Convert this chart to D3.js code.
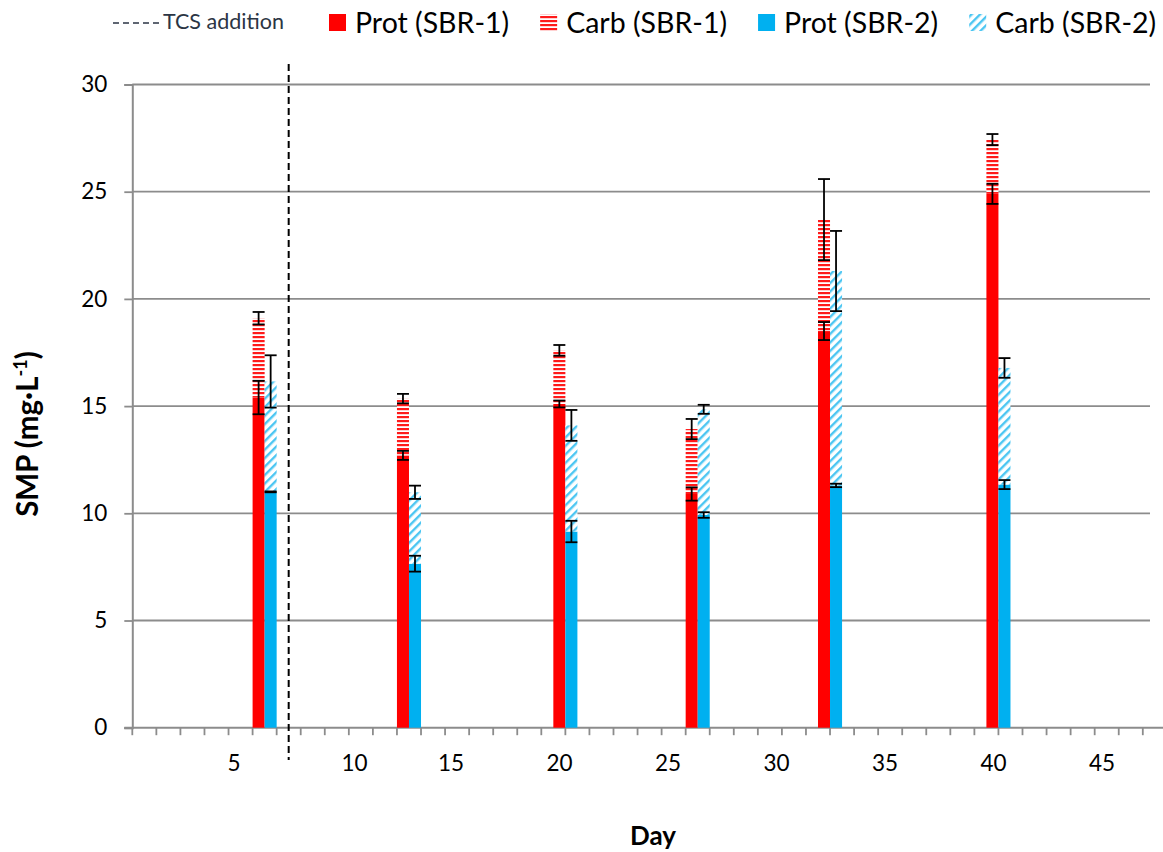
<!DOCTYPE html>
<html>
<head>
<meta charset="utf-8">
<script src="https://cdn.jsdelivr.net/npm/d3@7"></script>
<style>
  html, body { margin: 0; padding: 0; background: #fff; }
  svg { display: block; font-family: Lato, "Open Sans", sans-serif; }
</style>
</head>
<body>
<svg id="chart" width="1163" height="852"></svg>
<script>
// Sampling positions on the day axis (slot units, one slot per day tick)
const sampleSlot = [5.5, 11.5, 18.0, 23.5, 29.0, 36.0];

// Soluble microbial products, mg/L (means and standard deviations)
const protSBR1    = [15.4, 12.7, 15.1, 10.9, 18.5, 24.9];
const protSBR1Err = [0.78, 0.21, 0.16, 0.31, 0.42, 0.47];
const carbSBR1    = [3.7, 2.65, 2.5, 3.03, 5.2, 2.53];
const carbSBR1Err = [0.29, 0.22, 0.25, 0.47, 1.89, 0.26];
const protSBR2    = [11.0, 7.65, 9.15, 9.92, 11.3, 11.34];
const protSBR2Err = [0.02, 0.37, 0.5, 0.13, 0.08, 0.21];
const carbSBR2    = [5.15, 3.33, 4.95, 4.93, 10.0, 5.44];
const carbSBR2Err = [1.22, 0.31, 0.72, 0.21, 1.87, 0.46];

// Axis labels
const dayLabels = [5, 10, 15, 20, 25, 30, 35, 40, 45];
const yTicks = [0, 5, 10, 15, 20, 25, 30];
const slotCount = 42;
const tcsSlot = 6.5;   // triclosan dosing starts here

const legendItems = [
  { label: "Prot (SBR-1)", fill: "#ff0000" },
  { label: "Carb (SBR-1)", fill: "url(#hstripe)" },
  { label: "Prot (SBR-2)", fill: "#00b0f0" },
  { label: "Carb (SBR-2)", fill: "url(#dstripe)" }
];

const svg = d3.select("#chart");
const axisColor = "#8c8c8c";

const plot = { left: 132.3, right: 1150, top: 84.5, bottom: 727.7 };

const x = d3.scaleLinear().domain([0, slotCount]).range([plot.left, 1142.8]);
const dayX = d3.scaleLinear().domain([5, 45]).range([234, 1102]);
const y = d3.scaleLinear().domain([0, 30]).range([plot.bottom, plot.top]);

// fill patterns
const defs = svg.append("defs");
const hs = defs.append("pattern").attr("id", "hstripe")
  .attr("width", 4).attr("height", 4).attr("patternUnits", "userSpaceOnUse");
hs.append("rect").attr("width", 4).attr("height", 4).attr("fill", "#fff");
hs.append("rect").attr("width", 4).attr("height", 2.2).attr("fill", "#ff1a1a");

const ds = defs.append("pattern").attr("id", "dstripe")
  .attr("width", 6).attr("height", 6).attr("patternUnits", "userSpaceOnUse")
  .attr("patternTransform", "rotate(45)");
ds.append("rect").attr("width", 6).attr("height", 6).attr("fill", "#fff");
ds.append("rect").attr("width", 2.4).attr("height", 6).attr("fill", "#4cc6f2");

// horizontal gridlines
svg.append("g").selectAll("line").data(yTicks.filter(d => d > 0)).join("line")
  .attr("x1", plot.left).attr("x2", plot.right)
  .attr("y1", d => y(d)).attr("y2", d => y(d))
  .attr("stroke", axisColor).attr("stroke-width", 1.8);

// y axis
const yAxis = svg.append("g").attr("transform", `translate(${plot.left},0)`)
  .call(d3.axisLeft(y).tickValues(yTicks).tickSize(8).tickPadding(17));
yAxis.select(".domain").attr("stroke", axisColor).attr("stroke-width", 2);
yAxis.selectAll(".tick line").attr("stroke", axisColor).attr("stroke-width", 1.8);
yAxis.selectAll(".tick text").attr("fill", "#000")
  .style("font-size", "22.5px").style("font-family", "Lato, sans-serif");

// x axis: line with one tick per slot
const xAxis = svg.append("g").attr("transform", `translate(0,${plot.bottom})`);
xAxis.append("line").attr("x1", plot.left - 8).attr("x2", 1163)
  .attr("stroke", axisColor).attr("stroke-width", 2);
xAxis.selectAll("line.tk").data(d3.range(0, slotCount + 1)).join("line")
  .attr("class", "tk")
  .attr("x1", d => x(d)).attr("x2", d => x(d))
  .attr("y1", 0).attr("y2", 7.5)
  .attr("stroke", axisColor).attr("stroke-width", 1.8);

// day labels
const labelNudge = { 10: 12 };
svg.append("g").selectAll("text").data(dayLabels).join("text")
  .attr("x", d => dayX(d) + (labelNudge[d] || 0))
  .attr("y", 771)
  .attr("text-anchor", "middle")
  .style("font-size", "22.5px")
  .text(d => d);

// bars
const half = x(0.5) - x(0);
const g = svg.append("g");
sampleSlot.forEach((s, i) => {
  const cx = x(s);
  // SBR-1 on the left half, SBR-2 on the right half
  g.append("rect").attr("x", cx - half).attr("width", half)
    .attr("y", y(protSBR1[i])).attr("height", y(0) - y(protSBR1[i]))
    .attr("fill", "#ff0000");
  g.append("rect").attr("x", cx - half).attr("width", half)
    .attr("y", y(protSBR1[i] + carbSBR1[i]))
    .attr("height", y(protSBR1[i]) - y(protSBR1[i] + carbSBR1[i]))
    .attr("fill", "url(#hstripe)");
  g.append("rect").attr("x", cx).attr("width", half)
    .attr("y", y(protSBR2[i])).attr("height", y(0) - y(protSBR2[i]))
    .attr("fill", "#00b0f0");
  g.append("rect").attr("x", cx).attr("width", half)
    .attr("y", y(protSBR2[i] + carbSBR2[i]))
    .attr("height", y(protSBR2[i]) - y(protSBR2[i] + carbSBR2[i]))
    .attr("fill", "url(#dstripe)");
});

// error bars
function errBar(cx, v, e) {
  const cap = 6;
  const eg = g.append("g").attr("stroke", "#000").attr("stroke-width", 1.8);
  eg.append("line").attr("x1", cx).attr("x2", cx).attr("y1", y(v + e)).attr("y2", y(v - e));
  eg.append("line").attr("x1", cx - cap).attr("x2", cx + cap).attr("y1", y(v + e)).attr("y2", y(v + e));
  eg.append("line").attr("x1", cx - cap).attr("x2", cx + cap).attr("y1", y(v - e)).attr("y2", y(v - e));
}
sampleSlot.forEach((s, i) => {
  const c1 = x(s) - half / 2, c2 = x(s) + half / 2;
  errBar(c1, protSBR1[i], protSBR1Err[i]);
  errBar(c1, protSBR1[i] + carbSBR1[i], carbSBR1Err[i]);
  errBar(c2, protSBR2[i], protSBR2Err[i]);
  errBar(c2, protSBR2[i] + carbSBR2[i], carbSBR2Err[i]);
});

// TCS addition marker
svg.append("line")
  .attr("x1", x(tcsSlot)).attr("x2", x(tcsSlot))
  .attr("y1", 64).attr("y2", 760)
  .attr("stroke", "#000").attr("stroke-width", 2)
  .attr("stroke-dasharray", "7,4");

// axis titles
svg.append("text").attr("x", 653).attr("y", 845)
  .attr("text-anchor", "middle")
  .style("font-size", "26px").style("font-weight", "bold")
  .text("Day");

const yt = svg.append("text")
  .attr("transform", "translate(38,434) rotate(-90)")
  .attr("text-anchor", "middle")
  .style("font-size", "29.5px").style("font-weight", "bold");
yt.append("tspan").text("SMP (mg·L");
yt.append("tspan").attr("dy", -11).style("font-size", "18px").text("-1");
yt.append("tspan").attr("dy", 11).text(")");

// legend
const lg = svg.append("g");
lg.append("line").attr("x1", 113).attr("x2", 161).attr("y1", 23).attr("y2", 23)
  .attr("stroke", "#2b3544").attr("stroke-width", 1.6).attr("stroke-dasharray", "6,4");
lg.append("text").attr("x", 163).attr("y", 29)
  .style("font-size", "21.5px").attr("fill", "#2b3544")
  .text("TCS addition");

let lx = 329;
legendItems.forEach(item => {
  lg.append("rect").attr("x", lx).attr("y", 14).attr("width", 17).attr("height", 17)
    .attr("fill", item.fill);
  const t = lg.append("text").attr("x", lx + 26).attr("y", 33)
    .style("font-size", "28.5px").text(item.label);
  lx += 26 + t.node().getComputedTextLength() + 31;
});
</script>
</body>
</html>
